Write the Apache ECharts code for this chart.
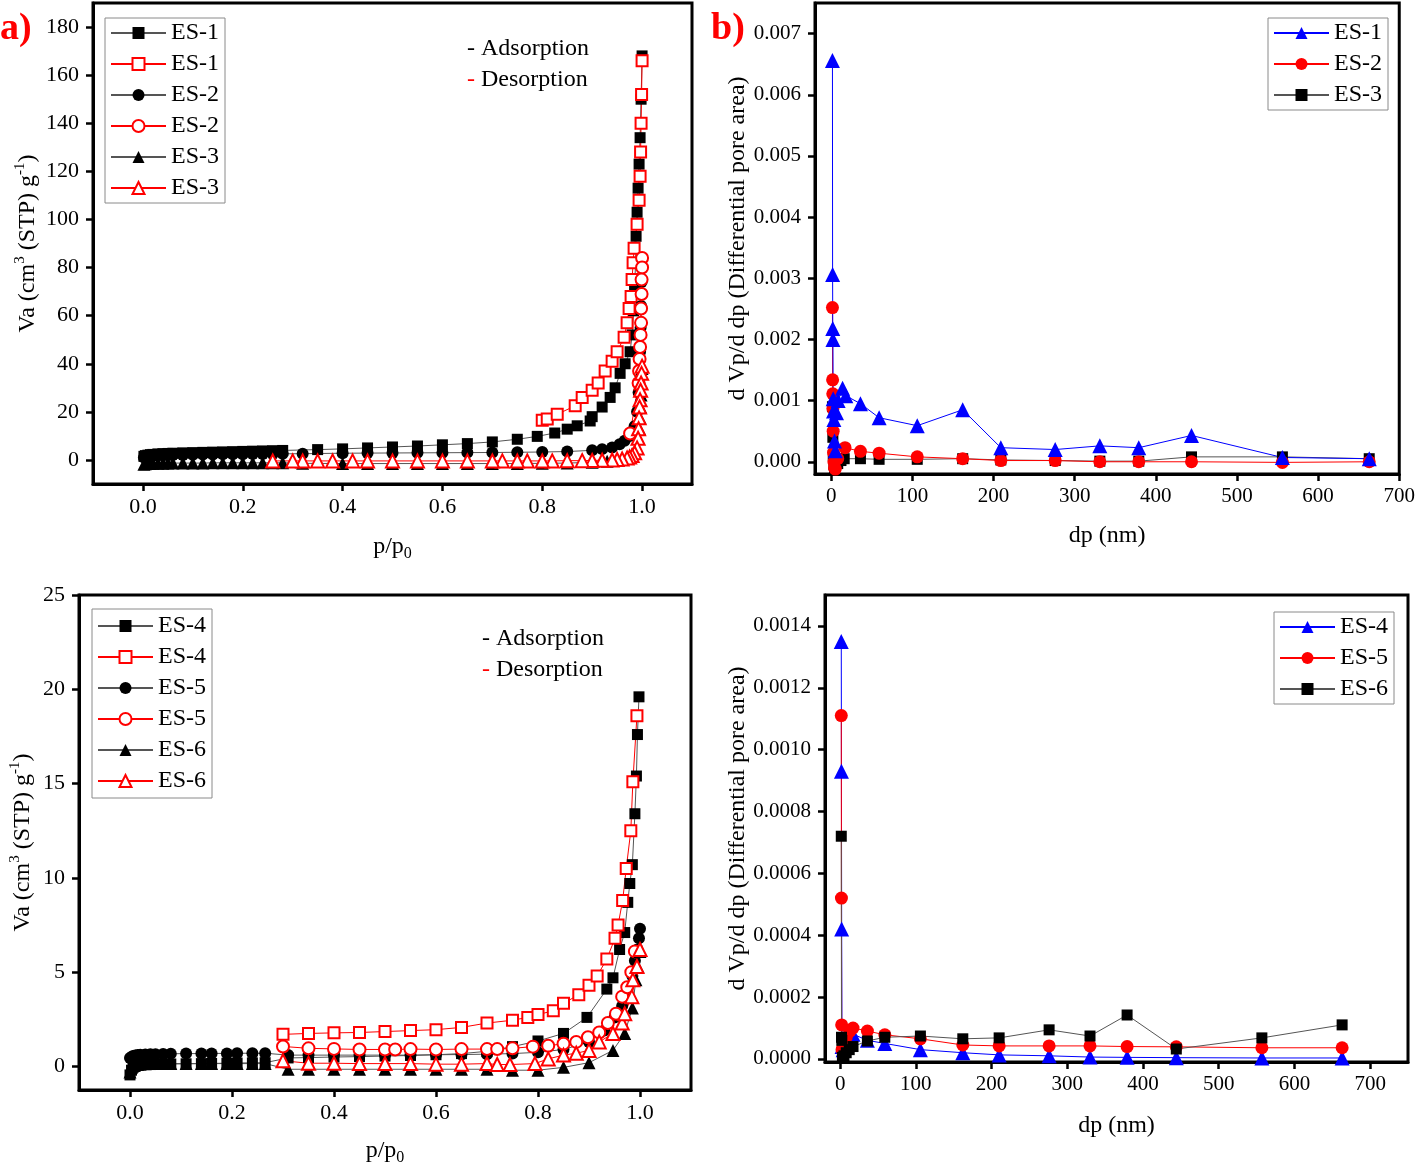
<!DOCTYPE html>
<html><head><meta charset="utf-8">
<script src="https://cdn.jsdelivr.net/npm/echarts@6/dist/echarts.min.js"></script>
<style>html,body{margin:0;padding:0;background:#fff}#c{width:1418px;height:1168px}</style>
</head><body><div id="c"></div><script>
// ---------- tick labels ----------
const aXTicks = [0, 0.2, 0.4, 0.6, 0.8, 1.0];
const aYTicks = [0, 20, 40, 60, 80, 100, 120, 140, 160, 180];
const bXTicks = [0, 100, 200, 300, 400, 500, 600, 700];
const bYTicks = [0, 0.001, 0.002, 0.003, 0.004, 0.005, 0.006, 0.007];
const cXTicks = [0, 0.2, 0.4, 0.6, 0.8, 1.0];
const cYTicks = [0, 5, 10, 15, 20, 25];
const dXTicks = [0, 100, 200, 300, 400, 500, 600, 700];
const dYTicks = [0, 0.0002, 0.0004, 0.0006, 0.0008, 0.0010, 0.0012, 0.0014];

// ---------- panel a : isotherms ES-1..ES-3 ----------
const lowPA = [0.002, 0.005, 0.01, 0.015, 0.02, 0.03, 0.04, 0.05, 0.06, 0.08, 0.1, 0.12, 0.14, 0.16, 0.18, 0.2, 0.22, 0.24, 0.26, 0.28];
const es1AdsLowV = [1.5, 1.8, 2.0, 2.2, 2.3, 2.5, 2.6, 2.7, 2.8, 2.95, 3.05, 3.15, 3.25, 3.35, 3.45, 3.55, 3.65, 3.75, 3.85, 3.95];
const es1AdsP = [0.35, 0.4, 0.45, 0.5, 0.55, 0.6, 0.65, 0.7, 0.75, 0.79, 0.825, 0.85, 0.87, 0.896, 0.9, 0.92, 0.936, 0.946, 0.956, 0.966, 0.976, 0.98, 0.983, 0.985, 0.987, 0.988, 0.99, 0.992, 0.994, 0.996, 0.998, 1.0];
const es1AdsV = [4.3, 4.6, 5.0, 5.4, 5.8, 6.3, 6.8, 7.5, 8.6, 9.8, 11.2, 12.8, 14.2, 16.2, 18, 22, 26, 30, 36, 40, 45, 52, 62, 72, 82, 93, 103, 113, 123, 134, 150, 168];
const es1DesP = [0.8, 0.81, 0.83, 0.866, 0.88, 0.9, 0.912, 0.926, 0.94, 0.95, 0.964, 0.97, 0.974, 0.978, 0.98, 0.982, 0.984, 0.99, 0.994, 0.996, 0.997, 0.998, 0.999, 1.0];
const es1DesV = [16.5, 17, 19, 22.5, 26, 29, 32, 37, 41, 45, 51, 57, 63, 68, 75, 82, 88, 98, 108, 118, 128, 140, 152, 166];
const es2AdsLowV = [1.0, 1.3, 1.5, 1.6, 1.7, 1.8, 1.9, 2.0, 2.05, 2.1, 2.2, 2.25, 2.3, 2.35, 2.4, 2.4, 2.45, 2.5, 2.5, 2.55];
const es2AdsP = [0.32, 0.4, 0.45, 0.5, 0.55, 0.6, 0.65, 0.7, 0.75, 0.8, 0.85, 0.9, 0.92, 0.94, 0.955, 0.965, 0.975, 0.985, 0.99, 0.993, 0.995, 0.996, 0.997, 0.998, 0.999, 1.0];
const es2AdsV = [2.6, 2.8, 2.85, 2.9, 2.95, 3.0, 3.05, 3.1, 3.2, 3.3, 3.5, 4.0, 4.5, 5.2, 6.5, 8, 10, 14, 20, 28, 36, 45, 55, 64, 74, 84];
const es2DesP = [1.0, 1.0, 0.999, 0.999, 0.998, 0.998, 0.997, 0.996, 0.995, 0.994, 0.993, 0.976];
const es2DesV = [84, 80, 75, 69, 63, 57, 52, 47, 42, 37, 32, 11];
const es3AdsLowV = [-1.8, -1.6, -1.5, -1.5, -1.4, -1.4, -1.4, -1.3, -1.3, -1.3, -1.3, -1.3, -1.2, -1.2, -1.2, -1.2, -1.2, -1.2, -1.2, -1.2];
const es3AdsP = [0.32, 0.4, 0.45, 0.5, 0.55, 0.6, 0.65, 0.7, 0.75, 0.8, 0.85, 0.9, 0.93, 0.95, 0.97, 0.98, 0.99, 0.993, 0.995, 0.996, 0.997, 0.998, 0.999, 1.0];
const es3AdsV = [-1.4, -1.5, -1.5, -1.5, -1.5, -1.5, -1.5, -1.5, -1.5, -1.4, -1.3, -1.0, -0.5, 0, 1, 2.5, 5, 9, 13, 17.5, 22, 27, 32, 38];
const es3DesP = [1.0, 0.999, 0.998, 0.997, 0.996, 0.995, 0.994, 0.993, 0.992, 0.99, 0.985, 0.98, 0.975, 0.97, 0.96, 0.95, 0.94, 0.92, 0.9, 0.88, 0.85, 0.82, 0.8, 0.77, 0.75, 0.72, 0.7, 0.65, 0.6, 0.55, 0.5, 0.45, 0.42, 0.38, 0.35, 0.32, 0.3, 0.26];
const es3DesV = [39, 36, 32, 29, 25, 22, 17.5, 13, 9, 5, 3, 1.8, 1.2, 0.8, 0.4, 0.2, 0, -0.1, -0.2, -0.3, -0.3, -0.4, -0.4, -0.4, -0.4, -0.4, -0.4, -0.4, -0.4, -0.4, -0.4, -0.4, -0.4, -0.4, -0.4, -0.4, -0.4, -0.4];

// ---------- panel b : pore size ES-1..ES-3 ----------
const bEs1Dp = [1.5, 1.7, 1.9, 2.1, 2.4, 2.8, 3.3, 4.0, 5.0, 6.5, 8.5, 14, 18, 36, 59, 106, 162, 209, 276, 331, 379, 444, 556, 663];
const bEs1V = [0.00656, 0.00306, 0.00218, 0.00200, 0.00103, 0.00083, 0.00069, 0.00034, 0.00018, 0.00080, 0.00100, 0.00120, 0.00108, 0.00095, 0.00072, 0.00059, 0.00085, 0.00023, 0.00020, 0.00026, 0.00023, 0.00043, 0.00007, 0.00005];
const bEs2Dp = [1.5, 1.7, 1.9, 2.1, 2.4, 2.8, 3.3, 4.0, 5.0, 8, 17, 36, 59, 106, 162, 209, 276, 331, 379, 444, 556, 663];
const bEs2V = [0.00252, 0.00134, 0.00111, 0.00087, 0.0005, 0.00015, 0.0, -0.0001, -0.00012, 0.00005, 0.00023, 0.00017, 0.00014, 0.00008, 0.00005, 0.00002, 0.00002, 0.0, 0.0, 0.0, -0.00001, 0.0];
const bEs3Dp = [1.5, 2.0, 2.5, 3.3, 4.0, 5.0, 8, 12, 16, 36, 59, 106, 162, 209, 276, 331, 379, 444, 556, 663];
const bEs3V = [0.0009, 0.0004, 0.0001, -0.00005, -0.0001, -0.00008, -0.00003, 0.00002, 0.00005, 0.00005, 0.00004, 0.00004, 0.00005, 0.00003, 0.00002, 0.00001, 0.00001, 0.00008, 0.00008, 0.00005];

// ---------- panel c : isotherms ES-4..ES-6 ----------
const lowPC = [0.0, 0.003, 0.006, 0.01, 0.015, 0.02, 0.03, 0.04, 0.05, 0.065, 0.08, 0.11, 0.14, 0.16, 0.19, 0.21, 0.24, 0.265];
const es4AdsLowV = [-0.45, -0.2, -0.05, 0.0, 0.05, 0.08, 0.1, 0.1, 0.12, 0.12, 0.13, 0.14, 0.15, 0.16, 0.17, 0.18, 0.19, 0.2];
const es4AdsP = [0.31, 0.35, 0.4, 0.45, 0.5, 0.55, 0.6, 0.65, 0.7, 0.75, 0.8, 0.85, 0.896, 0.935, 0.947, 0.96, 0.97, 0.976, 0.98, 0.985, 0.99, 0.993, 0.995, 0.998];
const es4AdsV = [0.45, 0.47, 0.5, 0.52, 0.55, 0.58, 0.62, 0.68, 0.8, 1.05, 1.35, 1.75, 2.6, 4.1, 4.7, 6.2, 7.1, 8.7, 9.7, 10.7, 13.4, 15.4, 17.6, 19.6];
const es4DesP = [0.30, 0.35, 0.40, 0.45, 0.50, 0.55, 0.60, 0.65, 0.70, 0.75, 0.78, 0.80, 0.83, 0.85, 0.88, 0.90, 0.916, 0.935, 0.951, 0.957, 0.966, 0.973, 0.982, 0.986, 0.994];
const es4DesV = [1.7, 1.75, 1.78, 1.8, 1.85, 1.9, 1.95, 2.07, 2.3, 2.45, 2.6, 2.75, 2.95, 3.35, 3.8, 4.3, 4.8, 5.7, 6.8, 7.5, 8.8, 10.5, 12.5, 15.1, 18.6];
const es5AdsLowV = [0.45, 0.5, 0.55, 0.58, 0.6, 0.62, 0.63, 0.64, 0.65, 0.66, 0.67, 0.68, 0.68, 0.69, 0.69, 0.7, 0.7, 0.7];
const es5AdsP = [0.31, 0.35, 0.4, 0.45, 0.5, 0.55, 0.6, 0.65, 0.7, 0.75, 0.8, 0.85, 0.9, 0.93, 0.95, 0.965, 0.975, 0.985, 0.99, 0.995, 0.998, 1.0];
const es5AdsV = [0.6, 0.6, 0.6, 0.6, 0.6, 0.6, 0.62, 0.63, 0.65, 0.68, 0.75, 0.9, 1.3, 1.9, 2.6, 3.2, 4.0, 4.8, 5.6, 6.2, 6.8, 7.3];
const es5DesP = [0.30, 0.35, 0.40, 0.45, 0.50, 0.52, 0.55, 0.60, 0.65, 0.70, 0.72, 0.75, 0.79, 0.82, 0.85, 0.875, 0.898, 0.92, 0.937, 0.953, 0.965, 0.975, 0.983, 0.99];
const es5DesV = [1.06, 0.96, 0.93, 0.9, 0.9, 0.9, 0.92, 0.9, 0.92, 0.92, 0.92, 0.96, 1.05, 1.1, 1.2, 1.3, 1.55, 1.8, 2.3, 2.8, 3.7, 4.2, 5.0, 6.1];
const es6AdsLowV = [-0.3, -0.05, 0.05, 0.1, 0.12, 0.13, 0.14, 0.15, 0.15, 0.15, 0.15, 0.15, 0.15, 0.15, 0.15, 0.15, 0.15, 0.15];
const es6AdsP = [0.31, 0.35, 0.4, 0.45, 0.5, 0.55, 0.6, 0.65, 0.7, 0.75, 0.8, 0.85, 0.9, 0.947, 0.97, 0.985, 0.992, 0.996, 1.0];
const es6AdsV = [-0.15, -0.15, -0.15, -0.15, -0.15, -0.15, -0.15, -0.15, -0.15, -0.2, -0.2, -0.05, 0.2, 0.85, 1.75, 3.1, 4.6, 5.3, 6.1];
const es6DesP = [0.30, 0.35, 0.40, 0.45, 0.50, 0.55, 0.60, 0.65, 0.70, 0.72, 0.745, 0.794, 0.82, 0.85, 0.875, 0.9, 0.92, 0.947, 0.965, 0.97, 0.984, 0.986, 0.994, 1.0];
const es6DesV = [0.3, 0.17, 0.17, 0.15, 0.15, 0.15, 0.12, 0.12, 0.15, 0.1, 0.1, 0.15, 0.4, 0.6, 0.7, 0.85, 1.3, 1.75, 2.3, 2.8, 3.7, 4.6, 5.3, 6.2];

// ---------- panel d : pore size ES-4..ES-6 ----------
const dEs4Dp = [1.5, 1.7, 2.0, 2.5, 4, 8, 17, 36, 59, 106, 162, 210, 276, 330, 379, 444, 557, 663];
const dEs4V = [0.00135, 0.00093, 0.00042, 0.00004, 0.00003, 0.00005, 0.00008, 0.00006, 0.00005, 0.00003, 0.00002, 0.000013, 0.00001, 0.000006, 0.000005, 0.000004, 0.000003, 0.000003];
const dEs5Dp = [1.5, 1.7, 2.0, 2.5, 4, 8, 13, 17, 36, 59, 106, 162, 210, 276, 330, 379, 444, 557, 663];
const dEs5V = [0.00111, 0.00052, 0.00011, 0.00003, 0.00004, 0.00007, 0.00009, 0.0001, 0.00009, 0.000078, 0.000065, 0.000045, 0.000042, 0.000042, 0.000042, 0.00004, 0.000039, 0.000036, 0.000036];
const dEs6Dp = [1.5, 1.8, 2.2, 3, 5, 8, 12, 17, 36, 59, 106, 162, 210, 276, 330, 379, 444, 557, 663];
const dEs6V = [0.00072, 0.00007, 0.00006, 0.000005, 0.00001, 0.00002, 0.00003, 0.00004, 0.000058, 0.00007, 0.000074, 0.000065, 0.000068, 0.000094, 0.000074, 0.000142, 0.000032, 0.000068, 0.00011];

// ---------- build ----------
const F = '"Liberation Serif", "Times New Roman", serif';
const pairs = (xs, ys) => xs.map((x, i) => [x, ys[i]]);

function ser(name, gi, xs, ys, symbol, color, lineColor, size) {
  const empty = symbol.indexOf('empty') === 0;
  return {
    type: 'line', name, xAxisIndex: gi, yAxisIndex: gi, data: pairs(xs, ys),
    symbol, symbolSize: size, showSymbol: true, showAllSymbol: true,
    lineStyle: { color: lineColor, width: 1 },
    itemStyle: { color: color, borderColor: color, borderWidth: empty ? 1.3 : 0 },
    emphasis: { disabled: true }, animation: false
  };
}

const BLK = '#000', LINE_G = '#555', RED = '#ff0000', BLUE = '#0000ff';

const series = [
  ser('ES-1', 0, lowPA.concat(es1AdsP), es1AdsLowV.concat(es1AdsV), 'rect', BLK, LINE_G, 11),
  ser('ES-1 ', 0, es1DesP, es1DesV, 'emptyRect', RED, RED, 11),
  ser('ES-2', 0, lowPA.concat(es2AdsP), es2AdsLowV.concat(es2AdsV), 'circle', BLK, LINE_G, 12),
  ser('ES-2 ', 0, es2DesP, es2DesV, 'emptyCircle', RED, RED, 12),
  ser('ES-3', 0, lowPA.concat(es3AdsP), es3AdsLowV.concat(es3AdsV), 'triangle', BLK, LINE_G, 13),
  ser('ES-3 ', 0, es3DesP, es3DesV, 'emptyTriangle', RED, RED, 13),

  ser('ES-3  ', 1, bEs3Dp, bEs3V, 'rect', BLK, LINE_G, 11),
  ser('ES-2  ', 1, bEs2Dp, bEs2V, 'circle', RED, RED, 13),
  ser('ES-1  ', 1, bEs1Dp, bEs1V, 'triangle', BLUE, BLUE, 15),

  ser('ES-4', 2, lowPC.concat(es4AdsP), es4AdsLowV.concat(es4AdsV), 'rect', BLK, LINE_G, 11),
  ser('ES-4 ', 2, es4DesP, es4DesV, 'emptyRect', RED, RED, 11),
  ser('ES-5', 2, lowPC.concat(es5AdsP), es5AdsLowV.concat(es5AdsV), 'circle', BLK, LINE_G, 12),
  ser('ES-5 ', 2, es5DesP, es5DesV, 'emptyCircle', RED, RED, 12),
  ser('ES-6', 2, lowPC.concat(es6AdsP), es6AdsLowV.concat(es6AdsV), 'triangle', BLK, LINE_G, 13),
  ser('ES-6 ', 2, es6DesP, es6DesV, 'emptyTriangle', RED, RED, 13),

  ser('ES-4  ', 3, dEs4Dp, dEs4V, 'triangle', BLUE, BLUE, 15),
  ser('ES-5  ', 3, dEs5Dp, dEs5V, 'circle', RED, RED, 13),
  ser('ES-6  ', 3, dEs6Dp, dEs6V, 'rect', BLK, LINE_G, 11)
];

const richName = {
  n: { fontFamily: F, fontSize: 24, color: '#000', lineHeight: 30 },
  s: { fontFamily: F, fontSize: 15, color: '#000', lineHeight: 18, verticalAlign: 'top' },
  b: { fontFamily: F, fontSize: 16, color: '#000', lineHeight: 14, verticalAlign: 'bottom' }
};

function axis(gi, min, max, ticks, fmt, fs, name, gap, isY, margin) {
  return {
    gridIndex: gi, type: 'value', min, max,
    axisLine: { show: true, onZero: false, lineStyle: { color: '#000', width: 3 } },
    axisTick: { show: true, length: 7, lineStyle: { color: '#000', width: 2.5 }, customValues: ticks },
    axisLabel: { color: '#000', fontFamily: F, fontSize: fs, margin: margin, customValues: ticks, formatter: fmt },
    splitLine: { show: false },
    name, nameLocation: 'middle', nameGap: gap, nameRotate: isY ? 90 : 0,
    nameTextStyle: { fontFamily: F, fontSize: 24, color: '#000', rich: richName }
  };
}

const vaName = '{n|Va (cm}{s|3}{n| (STP) g}{s|-1}{n|)}';
const ppName = '{n|p/p}{b|0}';
const dvName = 'd Vp/d dp (Differential pore area)';

function legend(left, top, names, padding) {
  return {
    left, top, orient: 'vertical', data: names, itemWidth: 55, itemHeight: 15, itemGap: 7,
    padding: padding, borderColor: '#8a8a8a', borderWidth: 1, backgroundColor: '#fff',
    textStyle: { fontFamily: F, fontSize: 24, color: '#000', lineHeight: 24 },
    formatter: n => n.trim(), selectedMode: false
  };
}

const option = {
  backgroundColor: '#fff',
  animation: false,
  grid: [
    { left: 93, top: 3, width: 599, height: 481, show: true, borderColor: '#000', borderWidth: 3, backgroundColor: 'transparent' },
    { left: 815, top: 3, width: 587, height: 471, show: true, borderColor: '#000', borderWidth: 3, backgroundColor: 'transparent' },
    { left: 79, top: 595, width: 612, height: 495, show: true, borderColor: '#000', borderWidth: 3, backgroundColor: 'transparent' },
    { left: 825, top: 595, width: 583, height: 467, show: true, borderColor: '#000', borderWidth: 3, backgroundColor: 'transparent' }
  ],
  xAxis: [
    axis(0, -0.1, 1.1, aXTicks, v => v.toFixed(1), 22, ppName, 48, false, 12),
    axis(1, -20, 700, bXTicks, v => String(v), 21, 'dp (nm)', 50, false, 12),
    axis(2, -0.1, 1.1, cXTicks, v => v.toFixed(1), 22, ppName, 46, false, 12),
    axis(3, -20, 750, dXTicks, v => String(v), 21, 'dp (nm)', 52, false, 12)
  ],
  yAxis: [
    axis(0, -10, 190, aYTicks, v => String(v), 22, vaName, 50, true, 14),
    axis(1, -0.0002, 0.0075, bYTicks, v => v.toFixed(3), 21, dvName, 65, true, 14),
    axis(2, -1.25, 25, cYTicks, v => String(v), 22, vaName, 41, true, 14),
    axis(3, -0.00001, 0.0015, dYTicks, v => v.toFixed(4), 21, dvName, 75, true, 14)
  ],
  legend: [
    legend(105, 18, ['ES-1', 'ES-1 ', 'ES-2', 'ES-2 ', 'ES-3', 'ES-3 '], [3, 6, 3, 5]),
    legend(1268, 18, ['ES-1  ', 'ES-2  ', 'ES-3  '], [3, 6, 3, 5]),
    legend(92, 609, ['ES-4', 'ES-4 ', 'ES-5', 'ES-5 ', 'ES-6', 'ES-6 '], [5, 6, 5, 5]),
    legend(1274, 612, ['ES-4  ', 'ES-5  ', 'ES-6  '], [3, 6, 3, 5])
  ],
  graphic: [
    { type: 'text', left: 0, top: 10, z: 100, style: { text: 'a)', fill: '#ff0000', font: 'bold 38px ' + F } },
    { type: 'text', left: 711, top: 10, z: 100, style: { text: 'b)', fill: '#ff0000', font: 'bold 38px ' + F } },
    { type: 'text', left: 467, top: 37, z: 100, style: { text: '- Adsorption', fill: '#000', font: '24px ' + F } },
    { type: 'text', left: 467, top: 68, z: 100, style: { text: '{r|-} Desorption', fill: '#000', font: '24px ' + F, rich: { r: { fill: '#ff0000', font: '24px ' + F } } } },
    { type: 'text', left: 482, top: 627, z: 100, style: { text: '- Adsorption', fill: '#000', font: '24px ' + F } },
    { type: 'text', left: 482, top: 658, z: 100, style: { text: '{r|-} Desorption', fill: '#000', font: '24px ' + F, rich: { r: { fill: '#ff0000', font: '24px ' + F } } } }
  ],
  series
};

const chart = echarts.init(document.getElementById('c'), null, { renderer: 'canvas' });
chart.setOption(option);
</script></body></html>
